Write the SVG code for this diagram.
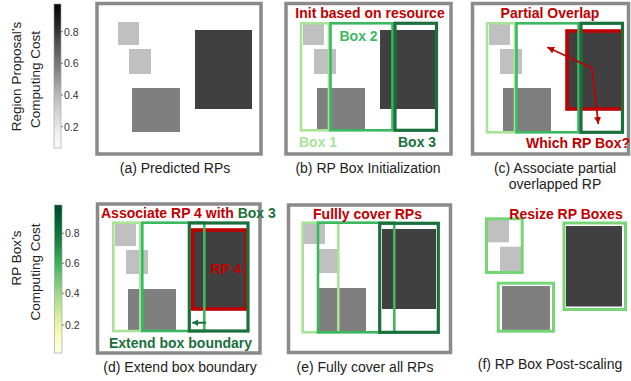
<svg xmlns="http://www.w3.org/2000/svg" width="631" height="381" viewBox="0 0 631 381">
<defs>
<linearGradient id="greys" x1="0" y1="0" x2="0" y2="1">
<stop offset="0" stop-color="#050505"/>
<stop offset="0.14" stop-color="#252525"/>
<stop offset="0.27" stop-color="#525252"/>
<stop offset="0.4" stop-color="#737373"/>
<stop offset="0.52" stop-color="#969696"/>
<stop offset="0.65" stop-color="#bdbdbd"/>
<stop offset="0.78" stop-color="#d9d9d9"/>
<stop offset="0.9" stop-color="#f0f0f0"/>
<stop offset="1" stop-color="#fafafa"/>
</linearGradient>
<linearGradient id="ylgn" x1="0" y1="0" x2="0" y2="1">
<stop offset="0" stop-color="#004529"/>
<stop offset="0.13" stop-color="#006837"/>
<stop offset="0.26" stop-color="#238443"/>
<stop offset="0.39" stop-color="#3cb15a"/>
<stop offset="0.51" stop-color="#78c679"/>
<stop offset="0.63" stop-color="#addd8e"/>
<stop offset="0.76" stop-color="#d9f0a3"/>
<stop offset="0.88" stop-color="#f7fcb9"/>
<stop offset="1" stop-color="#ffffe5"/>
</linearGradient>
<marker id="ahRed" markerUnits="userSpaceOnUse" markerWidth="7" markerHeight="7" refX="7" refY="3.5" orient="auto">
<path d="M0,0 L7,3.5 L0,7 z" fill="#c00000"/>
</marker>
<marker id="ahGreen" markerUnits="userSpaceOnUse" markerWidth="6" markerHeight="7" refX="6" refY="3.5" orient="auto">
<path d="M0,0 L6,3.5 L0,7 z" fill="#19703c"/>
</marker>
</defs>
<style>
text { font-family: "Liberation Sans", Arial, sans-serif; }
.frame { fill: #ffffff; stroke: #8a8a8a; stroke-width: 3.5; }
.lg { fill: #c0c0c0; }
.mg { fill: #7f7f7f; }
.dg { fill: #404040; }
.b1 { fill: none; stroke: #a8e39a; stroke-width: 2.6; }
.b2 { fill: none; stroke: #3cb960; stroke-width: 2.6; }
.b3 { fill: none; stroke: #19703c; stroke-width: 3.2; }
.bf { fill: none; stroke: #77d477; stroke-width: 3; }
.rp { fill: #404040; stroke: #c00000; stroke-width: 3.6; }
.cap { font-size: 14px; fill: #222222; text-anchor: middle; }
.note { font-size: 14px; font-weight: bold; }
.red { fill: #c00000; }
.tick { font-size: 10.5px; fill: #333333; }
.ylab { font-size: 13.5px; fill: #222222; text-anchor: middle; }
.tk { stroke: #555555; stroke-width: 0.8; }
</style>

<g id="colorbar-rp">
<text class="ylab" transform="translate(20.5,76.5) rotate(-90)">Region Proposal’s</text>
<text class="ylab" transform="translate(39.5,79.5) rotate(-90)">Computing Cost</text>
<rect x="54" y="4" width="7" height="144" fill="url(#greys)" stroke="#999999" stroke-width="0.6"/>
<line class="tk" x1="61" y1="31.7" x2="63" y2="31.7"/>
<line class="tk" x1="61" y1="63.3" x2="63" y2="63.3"/>
<line class="tk" x1="61" y1="95" x2="63" y2="95"/>
<line class="tk" x1="61" y1="126.7" x2="63" y2="126.7"/>
<text class="tick" x="64" y="35.5">0.8</text>
<text class="tick" x="64" y="67.1">0.6</text>
<text class="tick" x="64" y="98.8">0.4</text>
<text class="tick" x="64" y="130.5">0.2</text>
</g>

<g id="colorbar-box">
<text class="ylab" transform="translate(20.5,258) rotate(-90)">RP Box’s</text>
<text class="ylab" transform="translate(39.5,272) rotate(-90)">Computing Cost</text>
<rect x="54.5" y="205" width="7.5" height="148" fill="url(#ylgn)" stroke="#999999" stroke-width="0.6"/>
<line class="tk" x1="62" y1="233.3" x2="64" y2="233.3"/>
<line class="tk" x1="62" y1="263.3" x2="64" y2="263.3"/>
<line class="tk" x1="62" y1="293.3" x2="64" y2="293.3"/>
<line class="tk" x1="62" y1="325" x2="64" y2="325"/>
<text class="tick" x="65" y="237.1">0.8</text>
<text class="tick" x="65" y="267.1">0.6</text>
<text class="tick" x="65" y="297.1">0.4</text>
<text class="tick" x="65" y="328.8">0.2</text>
</g>

<g id="panel-a">
<rect class="frame" x="97" y="3.5" width="164" height="150.5"/>
<rect class="lg" x="118" y="22" width="21" height="23"/>
<rect class="lg" x="129" y="49" width="22" height="25"/>
<rect class="mg" x="132" y="88" width="48" height="44"/>
<rect class="dg" x="195" y="30" width="57" height="79"/>
<text class="cap" x="175" y="172.5">(a) Predicted RPs</text>
</g>

<g id="panel-b">
<rect class="frame" x="286" y="3.5" width="165" height="150.5"/>
<rect class="lg" x="303" y="22" width="21" height="23"/>
<rect class="lg" x="314" y="49" width="22" height="25"/>
<rect class="mg" x="317" y="88" width="48" height="43"/>
<rect class="dg" x="380" y="30" width="57" height="79"/>
<rect class="b1" x="301" y="23.3" width="28" height="107"/>
<rect class="b2" x="330.5" y="23.3" width="62" height="107"/>
<rect class="b3" x="395" y="23.3" width="41.5" height="107"/>
<text class="note red" x="370" y="17.5" text-anchor="middle">Init based on resource</text>
<text class="note" x="339.5" y="40.5" fill="#3cb960">Box 2</text>
<text class="note" x="299" y="146.5" fill="#a8e39a">Box 1</text>
<text class="note" x="398" y="146.5" fill="#19703c">Box 3</text>
<text class="cap" x="368" y="172.5">(b) RP Box Initialization</text>
</g>

<g id="panel-c">
<rect class="frame" x="472.5" y="3.5" width="156" height="150.5"/>
<rect class="lg" x="489" y="22" width="21" height="23"/>
<rect class="lg" x="500" y="49" width="22" height="25"/>
<rect class="mg" x="503" y="88" width="48" height="43"/>
<rect class="rp" x="567" y="31" width="55" height="78"/>
<rect class="b1" x="487" y="23.3" width="28" height="109"/>
<rect class="b2" x="516.5" y="23.3" width="62" height="109"/>
<rect class="b3" x="581" y="23.3" width="41.5" height="109"/>
<text class="note red" x="550" y="18" text-anchor="middle">Partial Overlap</text>
<text class="note red" x="578" y="148" text-anchor="middle">Which RP Box?</text>
<text class="cap" x="555" y="172.5">(c) Associate partial</text>
<text class="cap" x="555" y="189">overlapped RP</text>
</g>

<g id="panel-d">
<rect class="frame" x="97.5" y="204" width="162.5" height="149"/>
<rect class="lg" x="115" y="224" width="21" height="22"/>
<rect class="lg" x="126" y="250" width="22" height="24"/>
<rect class="mg" x="128" y="289" width="48" height="42"/>
<rect class="rp" x="192.5" y="230" width="54" height="79"/>
<rect class="b1" x="113.3" y="222.7" width="27" height="108.3"/>
<rect class="b2" x="142.3" y="222.7" width="62" height="108.3"/>
<rect class="b3" x="189.3" y="223" width="58.7" height="108"/>
<text class="note red" x="210.5" y="274.3">RP 4</text>
<text class="note" x="101" y="218.3"><tspan fill="#c00000">Associate RP 4 with </tspan><tspan fill="#19703c">Box 3</tspan></text>
<text class="note" x="180.5" y="348.3" text-anchor="middle" fill="#19703c">Extend box boundary</text>
<text class="cap" x="180" y="372">(d) Extend box boundary</text>
</g>

<g id="panel-e">
<rect class="frame" x="288.5" y="205" width="162" height="147.5"/>
<rect class="lg" x="303" y="224" width="22" height="20"/>
<rect class="lg" x="318" y="249" width="20" height="24"/>
<rect class="mg" x="319" y="288" width="47" height="43"/>
<rect class="dg" x="382" y="229" width="54" height="80"/>
<rect class="b1" x="302.7" y="222.7" width="35.6" height="109.6"/>
<rect class="b2" x="318" y="222.7" width="76.3" height="109.6"/>
<rect class="b3" x="379.7" y="223.3" width="58.6" height="109"/>
<text class="note red" x="367.5" y="219.3" text-anchor="middle">Fullly cover RPs</text>
<text class="cap" x="365" y="372">(e) Fully cover all RPs</text>
</g>

<g id="panel-f">
<rect class="lg" x="488" y="220" width="21" height="22.3"/>
<rect class="lg" x="500" y="246.7" width="21.7" height="25"/>
<rect class="bf" x="486.5" y="218.8" width="35.7" height="53.7"/>
<rect class="mg" x="502" y="286" width="48" height="44"/>
<rect class="bf" x="498.2" y="283.2" width="55.3" height="48"/>
<rect class="dg" x="566" y="226" width="56" height="80.5"/>
<rect class="bf" x="564" y="223" width="61.5" height="86.5"/>
<text class="note red" x="566" y="219.3" text-anchor="middle">Resize RP Boxes</text>
<text class="cap" x="550" y="368.5">(f) RP Box Post-scaling</text>
</g>

<g id="connectors">
<polyline points="592,68 547.3,47.3" fill="none" stroke="#c00000" stroke-width="1.8" marker-end="url(#ahRed)"/>
<polyline points="592,68 598.3,124" fill="none" stroke="#c00000" stroke-width="1.8" marker-end="url(#ahRed)"/>
<line x1="206" y1="322.7" x2="192.3" y2="322.7" stroke="#19703c" stroke-width="2" marker-end="url(#ahGreen)"/>
</g>
</svg>
